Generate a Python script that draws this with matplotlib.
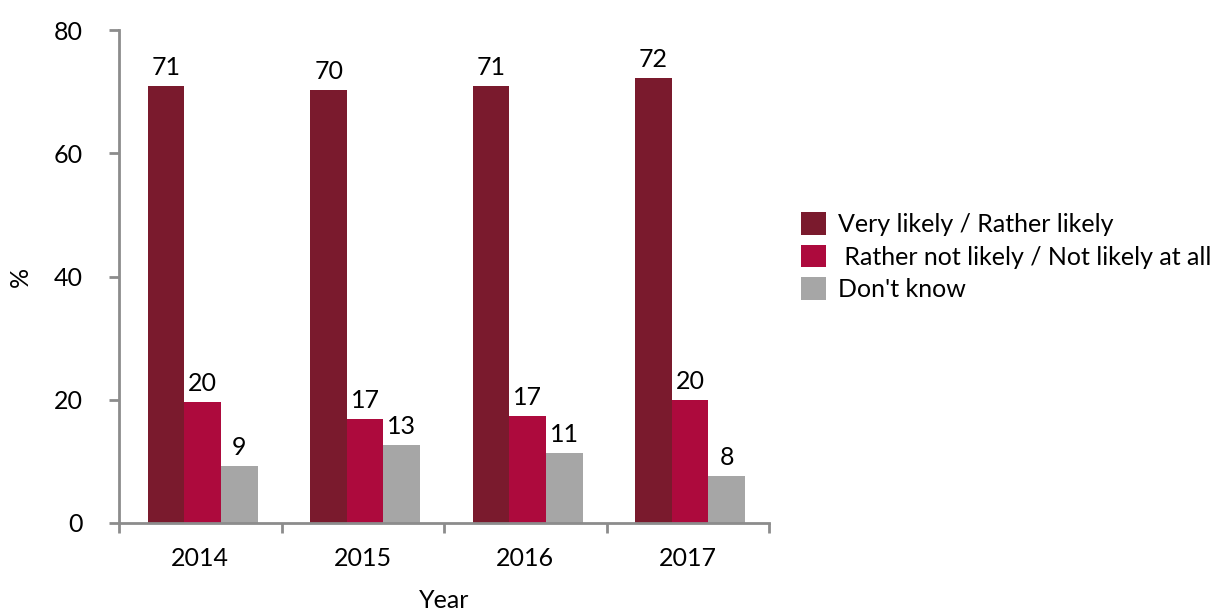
import matplotlib.pyplot as plt
import numpy as np

plt.rcParams['font.family'] = ['Lato', 'DejaVu Sans']

years = ['2014', '2015', '2016', '2017']
series_names = ['Very likely / Rather likely',
                ' Rather not likely / Not likely at all',
                "Don't know"]
likely = [70.9, 70.2, 70.9, 72.2]
not_likely = [19.6, 16.9, 17.3, 19.9]
dont_know = [9.2, 12.6, 11.3, 7.6]
colors = ['#7a1a2d', '#ad0a3d', '#a6a6a6']

fig = plt.figure(figsize=(12.21, 6.12), dpi=100)
ax = fig.add_axes([119 / 1221, 89 / 612, 650 / 1221, 493 / 612])

x = np.arange(len(years))
width = 0.225
offsets = [-width, 0, width]
for vals, name, col, off in zip([likely, not_likely, dont_know], series_names, colors, offsets):
    bars = ax.bar(x + off + 0.015, vals, width, color=col, label=name)
    for b, v in zip(bars, vals):
        ax.annotate(f'{round(v)}', (b.get_x() + b.get_width() / 2, v),
                    xytext=(0, 5), textcoords='offset points',
                    ha='center', va='bottom', fontsize=18)

ax.set_xlim(-0.5, len(years) - 0.5)
ax.set_ylim(0, 80)
ax.set_yticks([0, 20, 40, 60, 80])
ax.set_xticks(x)
ax.set_xticklabels(years)
ax.set_xticks(np.arange(-0.5, len(years)), minor=True)

for side in ['top', 'right']:
    ax.spines[side].set_visible(False)
for side in ['left', 'bottom']:
    ax.spines[side].set_color('#8c8c8c')
    ax.spines[side].set_linewidth(2)

ax.tick_params(axis='y', length=7, width=2, color='#8c8c8c', labelsize=18, pad=19)
ax.tick_params(axis='x', which='major', length=0, labelsize=18, pad=17)
ax.tick_params(axis='x', which='minor', length=7, width=2, color='#8c8c8c')

ax.set_xlabel('Year', fontsize=18, labelpad=14)
ax.set_ylabel('%', fontsize=18, labelpad=16)

ax.legend(loc='center left', bbox_to_anchor=(1.022, 0.54), frameon=False,
          fontsize=18, handlelength=1.0, handleheight=1.0,
          handletextpad=0.5, labelspacing=0.35, borderpad=0.2)

fig.savefig('out.png', dpi=100)
